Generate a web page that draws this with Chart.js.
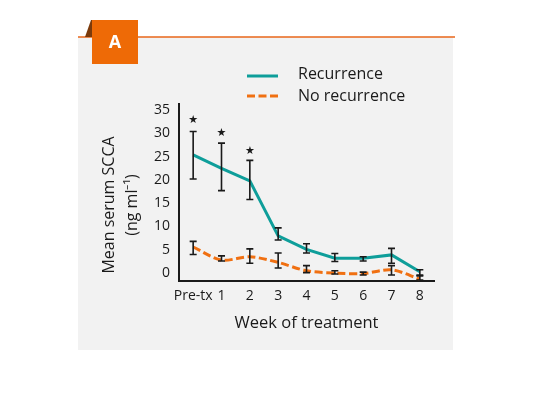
<!DOCTYPE html>
<html>
<head>
<meta charset="utf-8">
<script src="https://cdn.jsdelivr.net/npm/chart.js@4"></script>
<style>
  html, body { margin: 0; padding: 0; background: #ffffff; }
  canvas { display: block; }
</style>
</head>
<body>
<canvas id="scccaChart" width="536" height="402"></canvas>
<script>
// data
var weeks = ["Pre-tx", "1", "2", "3", "4", "5", "6", "7", "8"];
var recurrence = [25.4, 22.5, 19.8, 8.0, 5.1, 3.2, 3.2, 3.9, 0.3];
var recurrenceHi = [30.4, 27.9, 24.2, 9.7, 6.3, 4.2, 3.5, 5.3, 0.7];
var recurrenceLo = [20.2, 17.7, 15.8, 7.1, 4.3, 2.5, 2.6, 2.1, -0.4];
var noRecurrence = [5.6, 2.8, 3.5, 2.3, 0.5, 0.0, -0.1, 0.7, -1.3];
var noRecurrenceHi = [6.8, 3.7, 5.2, 4.3, 1.6, 0.5, 0.2, 1.6, -0.6];
var noRecurrenceLo = [4.0, 2.6, 2.1, 1.1, 0.1, -0.2, -0.4, -0.4, -1.5];
var starLevels = [32.9, 30.0, 26.2, null, null, null, null, null, null];
var yTicks = [0, 5, 10, 15, 20, 25, 30, 35];
var yTitle = ['Mean serum SCCA', '(ng ml\u207B\u00B9)'];

var teal = '#0e9e9a';
var orange = '#f07012';
var ink = '#1a1a1a';
var fontFamily = "'Open Sans', sans-serif";

// panel, label box, legend and y title
var panelPlugin = {
    id: 'panel',
    beforeDraw: function (chart) {
        var c = chart.ctx;
        c.save();
        c.fillStyle = '#ffffff';
        c.fillRect(0, 0, chart.width, chart.height);
        c.fillStyle = '#f2f2f2';
        c.fillRect(78, 37, 375, 313);
        c.strokeStyle = '#e8661a';
        c.lineWidth = 1.5;
        c.beginPath();
        c.moveTo(78, 37);
        c.lineTo(455, 37);
        c.stroke();
        c.fillStyle = '#7b3a0b';
        c.beginPath();
        c.moveTo(85, 37);
        c.lineTo(91, 20);
        c.lineTo(93, 20);
        c.lineTo(93, 37);
        c.closePath();
        c.fill();
        c.fillStyle = '#ee6a06';
        c.fillRect(92, 20, 46, 44);
        c.fillStyle = '#ffffff';
        c.font = "bold 18px 'Open Sans', sans-serif";
        c.textAlign = 'center';
        c.textBaseline = 'middle';
        c.fillText('A', 115, 43);

        // legend
        c.lineWidth = 3;
        c.strokeStyle = teal;
        c.beginPath();
        c.moveTo(247, 76);
        c.lineTo(278, 76);
        c.stroke();
        c.strokeStyle = orange;
        c.setLineDash([8, 3.5]);
        c.beginPath();
        c.moveTo(247, 96);
        c.lineTo(278, 96);
        c.stroke();
        c.setLineDash([]);
        c.fillStyle = ink;
        c.font = "16px " + fontFamily;
        c.textAlign = 'left';
        c.fillText('Recurrence', 298, 74);
        c.fillText('No recurrence', 298, 96);

        // y title, two rotated lines
        c.textAlign = 'center';
        c.translate(109, 205);
        c.rotate(-Math.PI / 2);
        c.fillText(yTitle[0], 0, 0);
        c.fillText(yTitle[1], 0, 23);
        c.restore();
    }
};

// error bars and significance stars
var errorBarPlugin = {
    id: 'errorBars',
    afterDatasetsDraw: function (chart) {
        var c = chart.ctx;
        var xs = chart.scales.x;
        var ys = chart.scales.y;
        var sets = [[recurrenceHi, recurrenceLo], [noRecurrenceHi, noRecurrenceLo]];
        c.save();
        c.strokeStyle = ink;
        c.lineWidth = 1.6;
        sets.forEach(function (s) {
            for (var i = 0; i < weeks.length; i++) {
                var x = xs.getPixelForValue(i);
                var top = ys.getPixelForValue(s[0][i]);
                var bot = ys.getPixelForValue(s[1][i]);
                c.beginPath();
                c.moveTo(x, top);
                c.lineTo(x, bot);
                c.moveTo(x - 3.5, top);
                c.lineTo(x + 3.5, top);
                c.moveTo(x - 3.5, bot);
                c.lineTo(x + 3.5, bot);
                c.stroke();
            }
        });
        c.fillStyle = ink;
        c.font = "11px 'DejaVu Sans', sans-serif";
        c.textAlign = 'center';
        c.textBaseline = 'middle';
        for (var i = 0; i < starLevels.length; i++) {
            if (starLevels[i] === null) continue;
            c.fillText('\u2605', xs.getPixelForValue(i), ys.getPixelForValue(starLevels[i]));
        }
        c.restore();
    }
};

var ctx = document.getElementById("scccaChart").getContext("2d");
var chart = new Chart(ctx, {
    type: 'line',
    data: {
        labels: weeks,
        datasets: [{
            label: 'Recurrence',
            data: recurrence,
            borderColor: teal,
            borderWidth: 3,
            pointRadius: 0,
            tension: 0,
            fill: false,
            clip: false
        }, {
            label: 'No recurrence',
            data: noRecurrence,
            borderColor: orange,
            borderWidth: 3,
            borderDash: [8, 3.5],
            pointRadius: 0,
            tension: 0.3,
            fill: false,
            clip: false
        }]
    },
    options: {
        responsive: false,
        animation: false,
        layout: {
            padding: { top: 104, right: 102, bottom: 67, left: 97 }
        },
        plugins: {
            legend: { display: false },
            tooltip: { enabled: false }
        },
        scales: {
            x: {
                offset: true,
                grid: { display: false, drawTicks: false },
                border: { display: true, color: ink, width: 2 },
                ticks: {
                    color: ink,
                    padding: 7,
                    maxRotation: 0,
                    autoSkip: false,
                    font: { family: fontFamily, size: 14 }
                },
                title: {
                    display: true,
                    text: 'Week of treatment',
                    color: ink,
                    padding: 0,
                    font: { family: fontFamily, size: 16.5, lineHeight: 1.4 }
                },
                afterFit: function (scale) { scale.height = 54; }
            },
            y: {
                min: -1.7,
                max: 36.3,
                grid: { display: false, drawTicks: false },
                border: { display: true, color: ink, width: 2 },
                afterBuildTicks: function (scale) {
                    scale.ticks = yTicks.map(function (v) { return { value: v }; });
                },
                ticks: {
                    color: ink,
                    padding: 9,
                    font: { family: fontFamily, size: 14 }
                },
                afterFit: function (scale) { scale.width = 82; }
            }
        }
    },
    plugins: [panelPlugin, errorBarPlugin]
});
</script>
</body>
</html>
